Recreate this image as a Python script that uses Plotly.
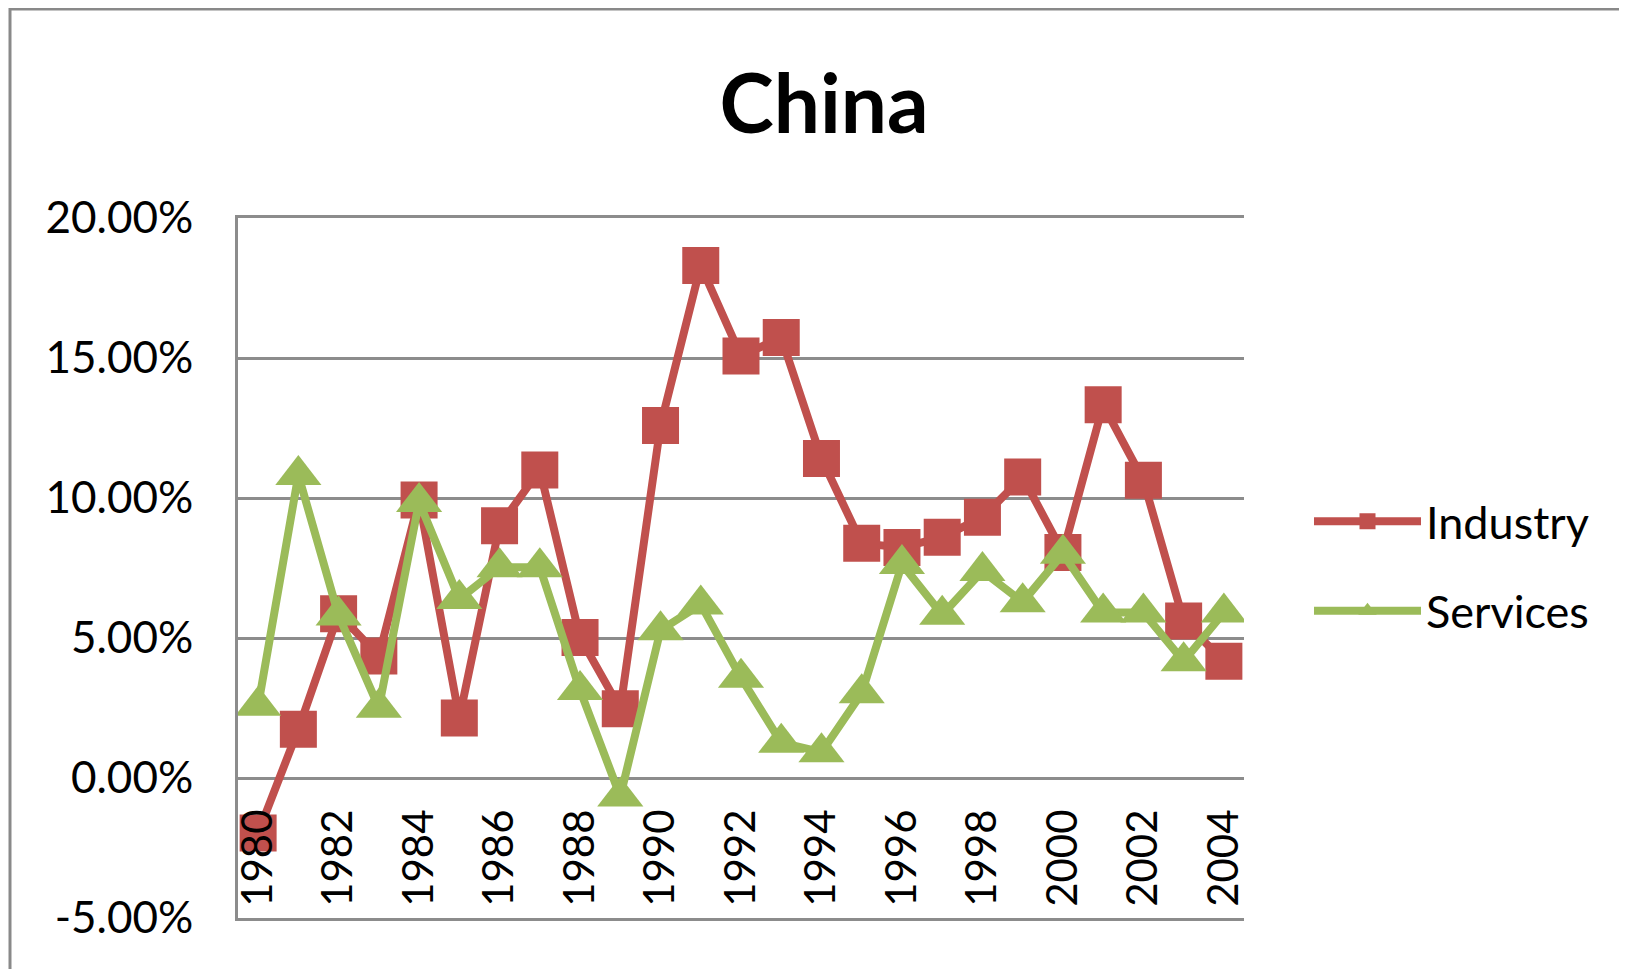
import plotly.graph_objects as go

years = [str(y) for y in range(1980, 2005)]
industry = [-1.96, 1.74, 5.87, 4.36, 9.93, 2.14, 9.01, 11.0, 5.02, 2.47, 12.59, 18.3,
            15.07, 15.73, 11.41, 8.38, 8.23, 8.6, 9.31, 10.75, 8.05, 13.33, 10.63, 5.61, 4.17]
services = [2.58, 10.82, 5.8, 2.51, 9.86, 6.39, 7.53, 7.53, 3.14, -0.66, 5.28, 6.2,
            3.58, 1.26, 0.92, 3.03, 7.64, 5.83, 7.39, 6.28, 8.01, 5.91, 5.91, 4.17, 5.91]
y_ticks = [-5, 0, 5, 10, 15, 20]
y_tick_labels = ["-5.00%", "0.00%", "5.00%", "10.00%", "15.00%", "20.00%"]
x_tick_labels = years[::2]

FONT = "Lato"
GRID = "#8c8c8c"

fig = go.Figure()
fig.add_trace(go.Scatter(
    x=years, y=industry, name="Industry", mode="lines+markers", legendgroup="a",
    line=dict(color="#C0504D", width=8),
    marker=dict(symbol="square", size=37, color="#C0504D"),
))
fig.add_trace(go.Scatter(
    x=years, y=services, name="Services", mode="lines+markers", legendgroup="b",
    line=dict(color="#9BBB59", width=8),
    marker=dict(symbol="triangle-up", size=40, color="#9BBB59"),
))
# carrier for the year-label axis (draws nothing)
fig.add_trace(go.Scatter(
    x=years, y=industry, xaxis="x2", mode="none", showlegend=False, hoverinfo="skip",
))

# figure pixel coords (page coords minus 8px body margin)
W, H = 1619, 961
L, R, T, B = 230, 1236, 210, 910
pw = R - L
ph = B - T

fig.update_layout(
    width=W, height=H,
    margin=dict(l=L, r=W - R, t=T, b=H - B, pad=0),
    paper_bgcolor="white", plot_bgcolor="white",
    font=dict(family=FONT, color="black"),
    title=dict(text="<b>China</b>", x=(816 - L) / pw, xref="paper", xanchor="center",
               y=1 - 96 / H, yanchor="middle",
               font=dict(family=FONT, size=82, color="black")),
    showlegend=True,
    legend=dict(x=(1301 - L) / pw, xanchor="left", y=(B - 558) / ph, yanchor="middle",
                font=dict(family=FONT, size=45, color="black"),
                tracegroupgap=28, itemwidth=107, bgcolor="rgba(0,0,0,0)"),
    xaxis=dict(
        type="category", categoryorder="array", categoryarray=years,
        range=[-0.5, len(years) - 0.5],
        showticklabels=False, ticks="",
        showgrid=False, zeroline=False,
        showline=True, linecolor=GRID, linewidth=3, mirror=True,
    ),
    xaxis2=dict(
        type="category", categoryorder="array", categoryarray=years,
        range=[-0.5, len(years) - 0.5], overlaying="x", anchor="free",
        position=(B - 792) / ph, side="bottom",
        tickmode="array", tickvals=x_tick_labels, ticktext=x_tick_labels,
        tickangle=-90, ticks="", ticklabelstandoff=0,
        tickfont=dict(family=FONT, size=42, color="black"),
        showgrid=False, zeroline=False, showline=False,
    ),
    yaxis=dict(
        range=[-5, 20], tickmode="array", tickvals=y_ticks, ticktext=y_tick_labels,
        tickfont=dict(family=FONT, size=44, color="black"), ticks="", ticklen=0,
        showgrid=True, gridcolor=GRID, gridwidth=3,
        zeroline=False, showline=True, linecolor=GRID, linewidth=3,
        ticklabelstandoff=33,
    ),
    shapes=[dict(type="rect", xref="paper", yref="paper",
                 x0=(2 - L) / pw, x1=(W + 40 - L) / pw,
                 y0=-(H + 40 - B) / ph, y1=1 + (T - 1) / ph,
                 line=dict(color="#898989", width=3), layer="below")],
)

fig.write_html("out.html")
